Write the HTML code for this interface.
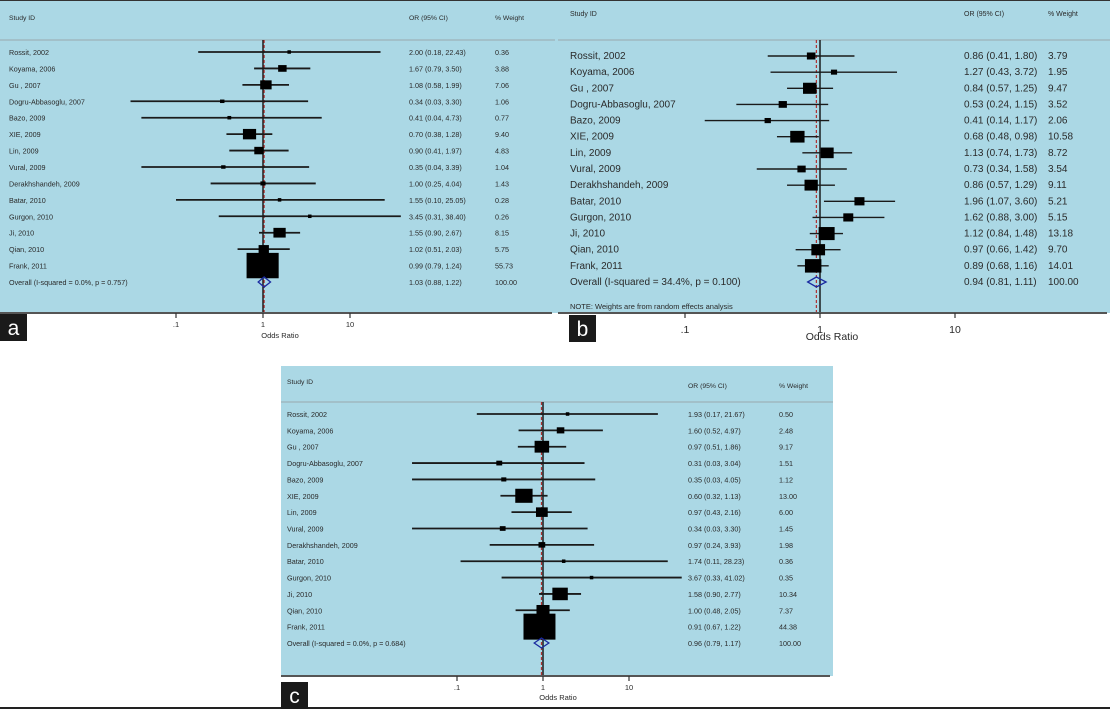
<!DOCTYPE html>
<html><head><meta charset="utf-8"><style>
html,body{margin:0;padding:0;background:#fff;}
svg{display:block;font-family:"Liberation Sans",sans-serif;}
</style></head><body>
<svg id="s" width="1110" height="709" xmlns="http://www.w3.org/2000/svg">
<rect x="0" y="0" width="1110" height="313" fill="#abd8e5"/>
<rect x="281" y="366" width="552" height="310" fill="#abd8e5"/>
<line x1="0" y1="0.5" x2="1110" y2="0.5" stroke="#333" stroke-width="1"/>
<line x1="0" y1="708" x2="1110" y2="708" stroke="#222" stroke-width="2"/>
</svg>
<script>
var S=document.getElementById('s');var NS='http://www.w3.org/2000/svg';
function el(t,a,txt){var e=document.createElementNS(NS,t);for(var k in a)e.setAttribute(k,a[k]);if(txt!==undefined)e.textContent=txt;S.appendChild(e);return e;}
var names=["Rossit, 2002","Koyama, 2006","Gu , 2007","Dogru-Abbasoglu, 2007","Bazo, 2009","XIE, 2009","Lin, 2009","Vural, 2009","Derakhshandeh, 2009","Batar, 2010","Gurgon, 2010","Ji, 2010","Qian, 2010","Frank, 2011"];
var P=[
{x0:0,x1:555,yTop:0,sep:40,axis:313,c1:263,dec:87,nx:9,orx:409,wx:495,hy:20,r0:52,r1:282,fs:7.2,hfs:6.8,kx:4.3,ky:3.4,lw:1.8,
 lab:"a",lb:[0,314],olx:280,oly:338,ofs:7.5,ticky:327,
 d:[[2.00,.18,22.43,.36],[1.67,.79,3.50,3.88],[1.08,.58,1.99,7.06],[.34,.03,3.30,1.06],[.41,.04,4.73,.77],[.70,.38,1.28,9.40],[.90,.41,1.97,4.83],[.35,.04,3.39,1.04],[1.00,.25,4.04,1.43],[1.55,.10,25.05,.28],[3.45,.31,38.40,.26],[1.55,.90,2.67,8.15],[1.02,.51,2.03,5.75],[.99,.79,1.24,55.73]],
 ov:[1.03,.88,1.22],ovt:"Overall  (I-squared = 0.0%, p = 0.757)",ovs:["1.03 (0.88, 1.22)","100.00"],
 s:["2.00 (0.18, 22.43)","1.67 (0.79, 3.50)","1.08 (0.58, 1.99)","0.34 (0.03, 3.30)","0.41 (0.04, 4.73)","0.70 (0.38, 1.28)","0.90 (0.41, 1.97)","0.35 (0.04, 3.39)","1.00 (0.25, 4.04)","1.55 (0.10, 25.05)","3.45 (0.31, 38.40)","1.55 (0.90, 2.67)","1.02 (0.51, 2.03)","0.99 (0.79, 1.24)"],
 w:["0.36","3.88","7.06","1.06","0.77","9.40","4.83","1.04","1.43","0.28","0.26","8.15","5.75","55.73"]},
{x0:558,x1:1110,yTop:0,sep:40,axis:313,c1:820,dec:135,nx:570,orx:964,wx:1048,hy:16,r0:56,r1:282,fs:10,hfs:7,kx:4.4,ky:3.6,lw:1.4,
 lab:"b",lb:[569,315],olx:832,oly:340,ofs:10.5,ticky:333,note:1,
 d:[[.86,.41,1.80,3.79],[1.27,.43,3.72,1.95],[.84,.57,1.25,9.47],[.53,.24,1.15,3.52],[.41,.14,1.17,2.06],[.68,.48,.98,10.58],[1.13,.74,1.73,8.72],[.73,.34,1.58,3.54],[.86,.57,1.29,9.11],[1.96,1.07,3.60,5.21],[1.62,.88,3.00,5.15],[1.12,.84,1.48,13.18],[.97,.66,1.42,9.70],[.89,.68,1.16,14.01]],
 ov:[.94,.81,1.11],ovt:"Overall  (I-squared = 34.4%, p = 0.100)",ovs:["0.94 (0.81, 1.11)","100.00"],
 s:["0.86 (0.41, 1.80)","1.27 (0.43, 3.72)","0.84 (0.57, 1.25)","0.53 (0.24, 1.15)","0.41 (0.14, 1.17)","0.68 (0.48, 0.98)","1.13 (0.74, 1.73)","0.73 (0.34, 1.58)","0.86 (0.57, 1.29)","1.96 (1.07, 3.60)","1.62 (0.88, 3.00)","1.12 (0.84, 1.48)","0.97 (0.66, 1.42)","0.89 (0.68, 1.16)"],
 w:["3.79","1.95","9.47","3.52","2.06","10.58","8.72","3.54","9.11","5.21","5.15","13.18","9.70","14.01"]},
{x0:281,x1:833,yTop:366,sep:402,axis:676,c1:543,dec:86,nx:287,orx:688,wx:779,hy:384,r0:414,r1:643,fs:7.2,hfs:6.8,kx:4.8,ky:3.9,lw:1.8,
 lab:"c",lb:[281,682],olx:558,oly:700,ofs:7.5,ticky:690,
 d:[[1.93,.17,21.67,.50],[1.60,.52,4.97,2.48],[.97,.51,1.86,9.17],[.31,.03,3.04,1.51],[.35,.03,4.05,1.12],[.60,.32,1.13,13.00],[.97,.43,2.16,6.00],[.34,.03,3.30,1.45],[.97,.24,3.93,1.98],[1.74,.11,28.23,.36],[3.67,.33,41.02,.35],[1.58,.90,2.77,10.34],[1.00,.48,2.05,7.37],[.91,.67,1.22,44.38]],
 ov:[.96,.79,1.17],ovt:"Overall  (I-squared = 0.0%, p = 0.684)",ovs:["0.96 (0.79, 1.17)","100.00"],
 s:["1.93 (0.17, 21.67)","1.60 (0.52, 4.97)","0.97 (0.51, 1.86)","0.31 (0.03, 3.04)","0.35 (0.03, 4.05)","0.60 (0.32, 1.13)","0.97 (0.43, 2.16)","0.34 (0.03, 3.30)","0.97 (0.24, 3.93)","1.74 (0.11, 28.23)","3.67 (0.33, 41.02)","1.58 (0.90, 2.77)","1.00 (0.48, 2.05)","0.91 (0.67, 1.22)"],
 w:["0.50","2.48","9.17","1.51","1.12","13.00","6.00","1.45","1.98","0.36","0.35","10.34","7.37","44.38"]}
];
P.forEach(function(p){
 var X=function(v){return p.c1+p.dec*Math.log10(v);};
 var col="#2a2a2a";
 el('line',{x1:p.x0,y1:p.sep,x2:p.x1,y2:p.sep,stroke:"#9fb8c0","stroke-width":1.5});
 el('text',{x:p.nx,y:p.hy,"font-size":p.hfs,fill:col},"Study   ID");
 el('text',{x:p.orx,y:p.hy+(p.lab=="c"?4:0),"font-size":p.hfs,fill:col},"OR (95% CI)");
 el('text',{x:p.wx,y:p.hy+(p.lab=="c"?4:0),"font-size":p.hfs,fill:col},"% Weight");
 var dy=(p.r1-p.r0)/14;
 el('line',{x1:X(1),y1:p.sep,x2:X(1),y2:p.axis,stroke:"#111","stroke-width":1.4});
 el('line',{x1:X(p.ov[0]),y1:p.sep,x2:X(p.ov[0]),y2:p.axis,stroke:"#b03030","stroke-width":1.2,"stroke-dasharray":"3,2"});
 p.d.forEach(function(r,i){
  var y=p.r0+i*dy;
  el('text',{x:p.nx,y:y+3,"font-size":p.fs,fill:col},names[i]);
  el('text',{x:p.orx,y:y+3,"font-size":p.fs,fill:col},p.s[i]);
  el('text',{x:p.wx,y:y+3,"font-size":p.fs,fill:col},p.w[i]);
  var a=Math.max(X(r[1]),p.x0),b=Math.min(X(r[2]),p.orx-4);
  el('line',{x1:a,y1:y,x2:b,y2:y,stroke:"#1a1a1a","stroke-width":p.lw});
  var sw=Math.max(3.5,p.kx*Math.sqrt(r[3])),sh=Math.max(3.5,p.ky*Math.sqrt(r[3]));
  el('rect',{x:X(r[0])-sw/2,y:y-sh/2,width:sw,height:sh,fill:"#000"});
 });
 var y=p.r1;
 el('text',{x:p.nx,y:y+3,"font-size":p.fs,fill:col},p.ovt);
 el('text',{x:p.orx,y:y+3,"font-size":p.fs,fill:col},p.ovs[0]);
 el('text',{x:p.wx,y:y+3,"font-size":p.fs,fill:col},p.ovs[1]);
 var h=5;
 el('polygon',{points:[X(p.ov[1]),y,X(p.ov[0]),y-h,X(p.ov[2]),y,X(p.ov[0]),y+h].join(" "),fill:"none",stroke:"#1a2aa0","stroke-width":1.3});
 if(p.note) el('text',{x:p.nx,y:309,"font-size":7.5,fill:col},"NOTE: Weights are from random effects analysis");
 el('line',{x1:p.x0,y1:p.axis,x2:p.x1-3,y2:p.axis,stroke:"#555","stroke-width":2});
 [[.1,".1"],[1,"1"],[10,"10"]].forEach(function(t){
  el('line',{x1:X(t[0]),y1:p.axis,x2:X(t[0]),y2:p.axis+5,stroke:"#333","stroke-width":1.2});
  el('text',{x:X(t[0]),y:p.ticky,"font-size":p.ofs,fill:col,"text-anchor":"middle"},t[1]);
 });
 el('text',{x:p.olx,y:p.oly,"font-size":p.ofs,fill:col,"text-anchor":"middle"},"Odds Ratio");
 el('rect',{x:p.lb[0],y:p.lb[1],width:27,height:27,fill:"#1a1a1a"});
 el('text',{x:p.lb[0]+13.5,y:p.lb[1]+21,"font-size":21,fill:"#fff","text-anchor":"middle"},p.lab);
});
</script>
</body></html>
